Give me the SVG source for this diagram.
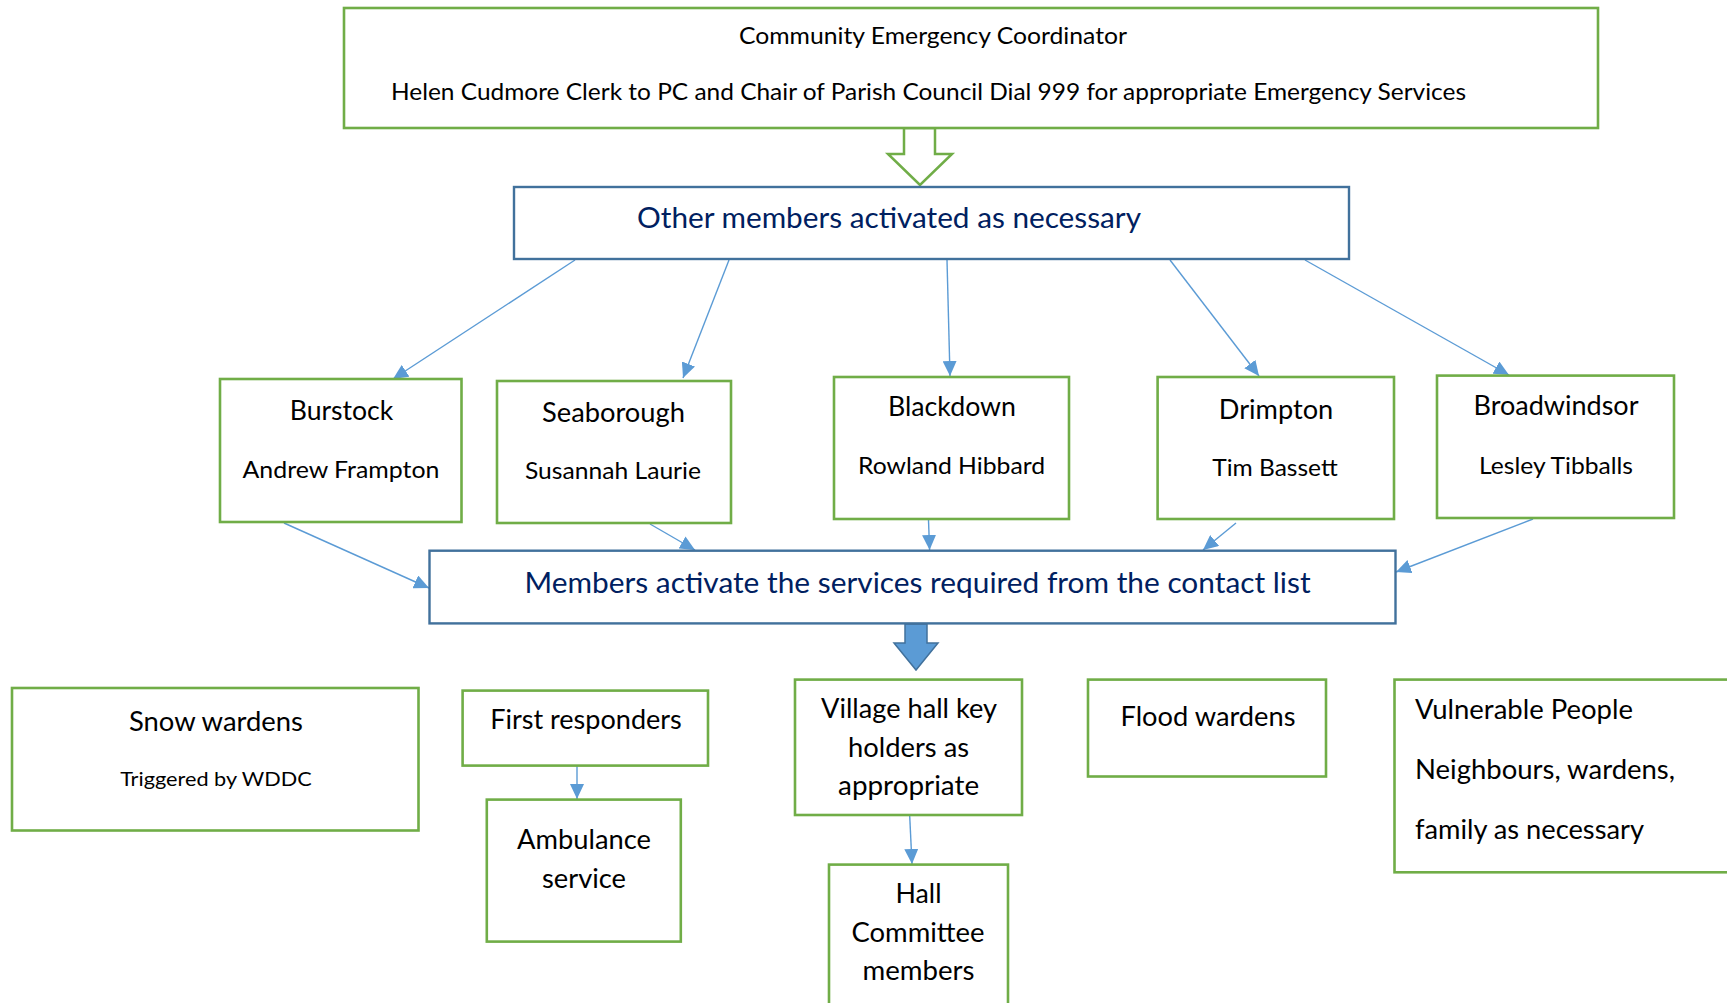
<svg xmlns="http://www.w3.org/2000/svg" width="1727" height="1003" viewBox="0 0 1727 1003">
<style>
.g{fill:#fff;stroke:#70AD47;stroke-width:2.6}
.b{fill:#fff;stroke:#41719C;stroke-width:2.4}
.t{font-family:Lato,"Open Sans",sans-serif;fill:#000;text-anchor:middle}
.tl{font-family:Lato,"Open Sans",sans-serif;fill:#000;text-anchor:start}
.n{font-family:Lato,"Open Sans",sans-serif;fill:#002060;text-anchor:middle}
.c{stroke:#5B9BD5;stroke-width:1.4;fill:none;marker-end:url(#ah)}
</style>
<defs>
<marker id="ah" markerUnits="userSpaceOnUse" markerWidth="15" markerHeight="14" refX="15" refY="7" orient="auto">
<path d="M0,0 L15,7 L0,14 Z" fill="#5B9BD5"/>
</marker>
</defs>
<rect width="1727" height="1003" fill="#fff"/>

<g id="connectors">
<path d="M904,128 L935,128 L935,154 L952,154 L920,185 L888,154 L904,154 Z" fill="#fff" stroke="#70AD47" stroke-width="2.5"/>
<line class="c" x1="575" y1="260" x2="393" y2="379"/>
<line class="c" x1="729" y1="260" x2="683" y2="378"/>
<line class="c" x1="947" y1="260" x2="950" y2="376"/>
<line class="c" x1="1170" y1="260" x2="1259" y2="376"/>
<line class="c" x1="1305" y1="260" x2="1509" y2="375"/>
<line class="c" x1="284" y1="523" x2="429" y2="588"/>
<line class="c" x1="650" y1="524" x2="695" y2="550"/>
<line class="c" x1="928.5" y1="520" x2="929.6" y2="550"/>
<line class="c" x1="1236" y1="523" x2="1203" y2="550"/>
<line class="c" x1="1533" y1="519" x2="1396" y2="572"/>
<path d="M905,624 L927,624 L927,643 L938,643 L916,670 L894,643 L905,643 Z" fill="#5B9BD5" stroke="#41719C" stroke-width="1.5"/>
<line class="c" x1="577" y1="766" x2="577" y2="799"/>
<line class="c" x1="909.7" y1="816" x2="912" y2="864"/>
</g>

<g id="coordinator">
<rect class="g" x="344" y="8" width="1254" height="120"/>
<text class="t" x="933" y="44" font-size="24" textLength="388" lengthAdjust="spacingAndGlyphs">Community Emergency Coordinator</text>
<text class="t" x="928.5" y="100" font-size="24" textLength="1075" lengthAdjust="spacingAndGlyphs">Helen Cudmore Clerk to PC and Chair of Parish Council Dial 999 for appropriate Emergency Services</text>
</g>

<g id="other-members">
<rect class="b" x="514" y="187" width="835" height="72"/>
<text class="n" x="889" y="228" font-size="29" textLength="504" lengthAdjust="spacingAndGlyphs">Other members activated as necessary</text>
</g>

<g id="burstock">
<rect class="g" x="220" y="379" width="241.5" height="143"/>
<text class="t" x="341.5" y="420" font-size="26.4" textLength="103.5" lengthAdjust="spacingAndGlyphs">Burstock</text>
<text class="t" x="341" y="478" font-size="24" textLength="197" lengthAdjust="spacingAndGlyphs">Andrew Frampton</text>
</g>

<g id="seaborough">
<rect class="g" x="497" y="381" width="234" height="142"/>
<text class="t" x="613.5" y="422" font-size="26.4" textLength="143" lengthAdjust="spacingAndGlyphs">Seaborough</text>
<text class="t" x="613" y="479" font-size="24" textLength="176" lengthAdjust="spacingAndGlyphs">Susannah Laurie</text>
</g>

<g id="blackdown">
<rect class="g" x="834" y="377" width="235" height="142"/>
<text class="t" x="952" y="416" font-size="26.4" textLength="128" lengthAdjust="spacingAndGlyphs">Blackdown</text>
<text class="t" x="951.6" y="473.6" font-size="24" textLength="187" lengthAdjust="spacingAndGlyphs">Rowland Hibbard</text>
</g>

<g id="drimpton">
<rect class="g" x="1157.6" y="377" width="236.4" height="142"/>
<text class="t" x="1276" y="418.5" font-size="26.4" textLength="114.5" lengthAdjust="spacingAndGlyphs">Drimpton</text>
<text class="t" x="1275" y="476" font-size="24" textLength="125.5" lengthAdjust="spacingAndGlyphs">Tim Bassett</text>
</g>

<g id="broadwindsor">
<rect class="g" x="1437" y="375.6" width="237" height="142.4"/>
<text class="t" x="1556" y="415" font-size="26.4" textLength="165" lengthAdjust="spacingAndGlyphs">Broadwindsor</text>
<text class="t" x="1556" y="473.6" font-size="24" textLength="154" lengthAdjust="spacingAndGlyphs">Lesley Tibballs</text>
</g>

<g id="members-activate">
<rect class="b" x="429.5" y="550.7" width="966" height="72.7"/>
<text class="n" x="917.6" y="592.5" font-size="29" textLength="786" lengthAdjust="spacingAndGlyphs">Members activate the services required from the contact list</text>
</g>

<g id="snow-wardens">
<rect class="g" x="12" y="688" width="406.5" height="142.5"/>
<text class="t" x="216" y="731" font-size="26.4" textLength="174" lengthAdjust="spacingAndGlyphs">Snow wardens</text>
<text class="t" x="216" y="786" font-size="20" textLength="191.6" lengthAdjust="spacingAndGlyphs">Triggered by WDDC</text>
</g>

<g id="first-responders">
<rect class="g" x="462.6" y="690.6" width="245.4" height="75"/>
<text class="t" x="586" y="729" font-size="26.4" textLength="191.6" lengthAdjust="spacingAndGlyphs">First responders</text>
</g>

<g id="ambulance">
<rect class="g" x="486.8" y="799.6" width="194" height="142"/>
<text class="t" x="584" y="849" font-size="26.4" textLength="134" lengthAdjust="spacingAndGlyphs">Ambulance</text>
<text class="t" x="584" y="888" font-size="26.4" textLength="84" lengthAdjust="spacingAndGlyphs">service</text>
</g>

<g id="village-hall">
<rect class="g" x="795" y="679.6" width="227" height="135.4"/>
<text class="t" x="909" y="718" font-size="26.4" textLength="176" lengthAdjust="spacingAndGlyphs">Village hall key</text>
<text class="t" x="908.6" y="757" font-size="26.4" textLength="121" lengthAdjust="spacingAndGlyphs">holders as</text>
<text class="t" x="908.6" y="795" font-size="26.4" textLength="141" lengthAdjust="spacingAndGlyphs">appropriate</text>
</g>

<g id="hall-committee">
<rect class="g" x="829" y="864.6" width="179" height="150"/>
<text class="t" x="918.5" y="903" font-size="26.4" textLength="46" lengthAdjust="spacingAndGlyphs">Hall</text>
<text class="t" x="918" y="942" font-size="26.4" textLength="133" lengthAdjust="spacingAndGlyphs">Committee</text>
<text class="t" x="918.5" y="980" font-size="26.4" textLength="112" lengthAdjust="spacingAndGlyphs">members</text>
</g>

<g id="flood-wardens">
<rect class="g" x="1088" y="679.6" width="238" height="96.9"/>
<text class="t" x="1208" y="726" font-size="26.4" textLength="175" lengthAdjust="spacingAndGlyphs">Flood wardens</text>
</g>

<g id="vulnerable">
<rect class="g" x="1394.5" y="679.6" width="350" height="192.7"/>
<text class="tl" x="1415" y="719" font-size="26.4" textLength="218" lengthAdjust="spacingAndGlyphs">Vulnerable People</text>
<text class="tl" x="1415" y="779" font-size="26.4" textLength="260" lengthAdjust="spacingAndGlyphs">Neighbours, wardens,</text>
<text class="tl" x="1415" y="839" font-size="26.4" textLength="229" lengthAdjust="spacingAndGlyphs">family as necessary</text>
</g>
</svg>
